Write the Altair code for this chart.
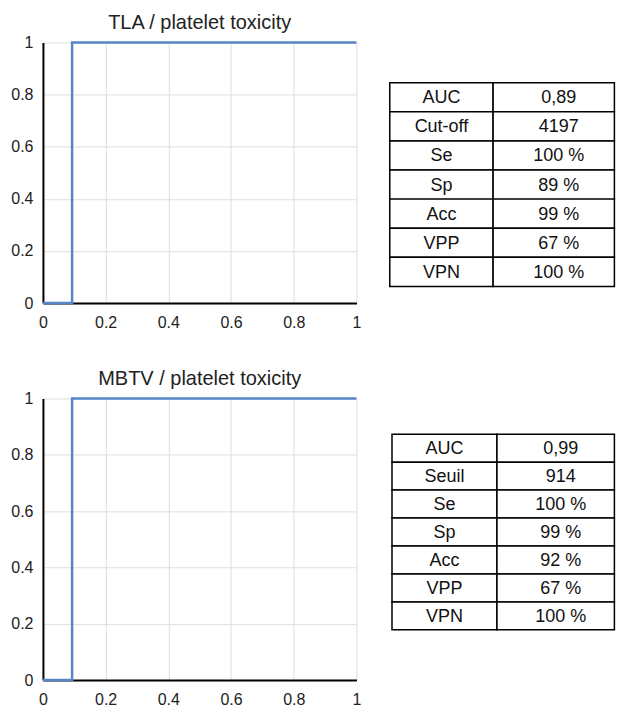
import altair as alt
import pandas as pd

FONT = "Liberation Sans"

# ROC curves (1 - specificity, sensitivity)
fpr_tla = [0.0, 0.093, 0.093, 1.0]
tpr_tla = [0.0, 0.0, 1.0, 1.0]
fpr_mbtv = [0.0, 0.093, 0.093, 1.0]
tpr_mbtv = [0.0, 0.0, 1.0, 1.0]

title_tla = "TLA / platelet toxicity"
title_mbtv = "MBTV / platelet toxicity"

tick_values = [0, 0.2, 0.4, 0.6, 0.8, 1]

metrics_tla = ["AUC", "Cut-off", "Se", "Sp", "Acc", "VPP", "VPN"]
values_tla = ["0,89", "4197", "100 %", "89 %", "99 %", "67 %", "100 %"]
metrics_mbtv = ["AUC", "Seuil", "Se", "Sp", "Acc", "VPP", "VPN"]
values_mbtv = ["0,99", "914", "100 %", "99 %", "92 %", "67 %", "100 %"]


def axis(label_padding):
    return alt.Axis(
        values=tick_values, format="~g", grid=True, gridColor="#dedede",
        gridWidth=1, domainColor="black", domainWidth=2, ticks=False,
        tickSize=0, labelFont=FONT, labelFontSize=16, labelColor="#222222",
        labelPadding=label_padding, labelFlush=False, labelOverlap=False,
        title=None,
    )


def roc(fpr, tpr, title, h):
    df = pd.DataFrame({"fpr": fpr, "tpr": tpr, "k": list(range(len(fpr)))})
    return alt.Chart(
        df,
        title=alt.TitleParams(
            title, fontSize=20, font=FONT, fontWeight="normal", color="#222222",
            anchor="middle", frame="group", offset=-14, baseline="alphabetic",
        ),
    ).mark_line(color="#5686c6", strokeWidth=2.5).encode(
        x=alt.X("fpr:Q", scale=alt.Scale(domain=[0, 1], nice=False), axis=axis(11)),
        y=alt.Y("tpr:Q", scale=alt.Scale(domain=[0, 1], nice=False), axis=axis(10)),
        order="k:Q",
    ).properties(width=314, height=h)


def table(metrics, values, h, xdomain, split, pad_outer):
    recs = []
    for i, (m, v) in enumerate(zip(metrics, values)):
        recs.append({"row": i, "x0": 0.0, "x1": split,
                     "xm": split / 2, "txt": m, "dx": 0})
        recs.append({"row": i, "x0": split, "x1": 1.0,
                     "xm": (split + 1.0) / 2, "txt": v, "dx": 1})
    df = pd.DataFrame(recs)
    xs = alt.Scale(domain=xdomain, nice=False, zero=False)
    ys = alt.Scale(paddingInner=0, paddingOuter=pad_outer, align=1)
    base = alt.Chart(df)
    rects = base.mark_rect(fill="white", stroke="black", strokeWidth=1.5).encode(
        x=alt.X("x0:Q", scale=xs, axis=None),
        x2="x1:Q",
        y=alt.Y("row:O", scale=ys, axis=None),
    )
    txt_m = base.transform_filter("datum.dx == 0").mark_text(
        font=FONT, fontSize=18, color="#111111", baseline="middle", dy=1
    ).encode(
        x=alt.X("xm:Q", scale=xs, axis=None),
        y=alt.Y("row:O", scale=ys, axis=None),
        text="txt:N",
    )
    txt_v = base.transform_filter("datum.dx == 1").mark_text(
        font=FONT, fontSize=18, color="#111111", baseline="middle", dy=1, dx=5
    ).encode(
        x=alt.X("xm:Q", scale=xs, axis=None),
        y=alt.Y("row:O", scale=ys, axis=None),
        text="txt:N",
    )
    return alt.layer(rects, txt_m, txt_v).properties(width=225, height=h)


roc1 = roc(fpr_tla, tpr_tla, title_tla, 261)
roc2 = roc(fpr_mbtv, tpr_mbtv, title_mbtv, 282)
tab1 = table(metrics_tla, values_tla, 244.3, [0.0, 1.0], 0.46, 0.691)
tab2 = table(metrics_mbtv, values_mbtv, 231.7, [-0.01, 1.0], 0.472, 0.6375)

chart = alt.concat(
    roc1, tab1, roc2, tab2, columns=2, bounds="flush", align="each",
    spacing={"row": 95.6, "column": 33.4},
).properties(
    padding={"left": 2, "top": 4, "right": 0, "bottom": 0}
).configure_view(stroke=None)

chart.save("out.html", embed_options={"renderer": "svg", "actions": False})
